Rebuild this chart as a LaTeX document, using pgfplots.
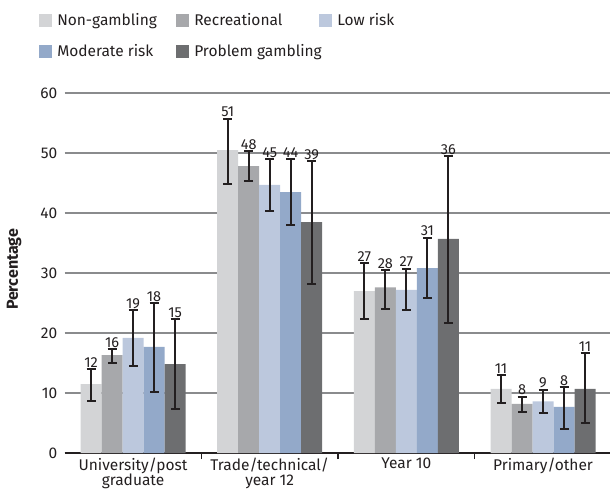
\documentclass[border=0pt]{standalone}
\usepackage{pgfplots}
\pgfplotsset{compat=1.18}
\usepackage{pgfplotstable}
\usepackage{fontspec}
\setmainfont{Fira Sans}
\definecolor{cNG}{HTML}{D3D4D6}
\definecolor{cRec}{HTML}{A7A8AB}
\definecolor{cLow}{HTML}{BCC8DD}
\definecolor{cMod}{HTML}{93A9C9}
\definecolor{cProb}{HTML}{6D6E70}
\definecolor{txt}{HTML}{231F20}
\definecolor{gridc}{HTML}{8A8B8D}

\pgfplotstableread{
x y ep em lab
0 11.5 2.5 2.8 12
1 50.5 5.2 5.7 51
2 27.0 4.6 4.7 27
3 10.7 2.3 2.4 11
}\tNG
\pgfplotstableread{
x y ep em lab
0 16.3 1.0 1.3 16
1 47.8 2.5 2.4 48
2 27.6 2.9 3.6 28
3 8.2 1.2 1.4 8
}\tRec
\pgfplotstableread{
x y ep em lab
0 19.2 4.6 4.7 19
1 44.7 4.3 4.4 45
2 27.2 3.5 3.4 27
3 8.6 1.9 2.0 9
}\tLow
\pgfplotstableread{
x y ep em lab
0 17.7 7.3 7.5 18
1 43.5 5.5 5.5 44
2 30.8 5.1 5.0 31
3 7.7 3.3 3.7 8
}\tMod
\pgfplotstableread{
x y ep em lab
0 14.8 7.5 7.4 15
1 38.5 10.1 10.3 39
2 35.7 13.8 14.1 36
3 10.7 5.9 5.7 11
}\tProb

\begin{document}
\begin{tikzpicture}[x=1pt,y=1pt]
\useasboundingbox (0,0) rectangle (610,499);
\begin{axis}[
  at={(64.7pt,46pt)}, anchor=south west,
  scale only axis, width=545.3pt, height=360pt,
  ybar=0pt, bar width=21pt,
  xmin=-0.5, xmax=3.49, ymin=0, ymax=60,
  axis x line*=bottom, axis y line*=left,
  y axis line style={draw=none},
  x axis line style={txt, line width=1.5pt},
  xtick={0,1,2,3},
  xticklabels={{University/post\\graduate},{Trade/technical/\\year 12},{Year 10},{Primary/other}},
  xticklabel style={align=center, font=\fontsize{15.5}{15.5}\selectfont, text=txt, yshift=-1pt},
  minor xtick={0.5,1.5,2.5},
  major x tick style={draw=none},
  minor x tick style={txt, line width=1.5pt},
  minor tick length=6pt, tick align=outside,
  ytick={0,10,...,60},
  major tick length=0pt,
  yticklabel style={font=\fontsize{15.5}{15.5}\selectfont, text=txt, xshift=-4pt},
  /pgf/number format/assume math mode=true,
  ymajorgrids, xmajorgrids=false,
  major grid style={draw=gridc, line width=1.3pt},
  ylabel={Percentage},
  ylabel style={font=\bfseries\fontsize{16}{16}\selectfont, text=txt, at={(axis description cs:-0.093,0.51)}, anchor=center},
  error bars/y dir=both, error bars/y explicit,
  error bars/error bar style={draw=txt, line width=2pt},
  error bars/error mark options={draw=txt, line width=2pt, mark size=4.5pt, rotate=90},
  nodes near coords,
  point meta=explicit symbolic,
  visualization depends on={6*\thisrow{ep} \as \eshift},
  every node near coord/.append style={font=\fontsize{14.5}{14.5}\selectfont, text=txt, anchor=south, inner sep=1.5pt, yshift=\eshift},
  legend columns=3,
  legend cell align=left,
  legend style={at={(axis description cs:-0.047,1.226)}, anchor=north west, draw=none, fill=none, inner sep=0pt,
    font=\fontsize{15.5}{15.5}\selectfont, text=txt, row sep=13pt,
    /tikz/every even column/.append style={column sep=0pt}},
  legend image code/.code={\fill[#1,draw=none] (0pt,-6.5pt) rectangle (13pt,6.5pt);},
]
\addplot[fill=cNG, draw=none] table[x=x, y=y, y error plus=ep, y error minus=em, meta=lab] {\tNG};
\addplot[fill=cRec, draw=none] table[x=x, y=y, y error plus=ep, y error minus=em, meta=lab] {\tRec};
\addplot[fill=cLow, draw=none] table[x=x, y=y, y error plus=ep, y error minus=em, meta=lab] {\tLow};
\addplot[fill=cMod, draw=none] table[x=x, y=y, y error plus=ep, y error minus=em, meta=lab] {\tMod};
\addplot[fill=cProb, draw=none] table[x=x, y=y, y error plus=ep, y error minus=em, meta=lab] {\tProb};
\addlegendentry{\hspace{3pt}\makebox[117pt][l]{Non-gambling}}
\addlegendentry{\hspace{3pt}\makebox[123pt][l]{Recreational}}
\addlegendentry{\hspace{3pt}Low risk}
\addlegendentry{\hspace{3pt}\makebox[117pt][l]{Moderate risk}}
\addlegendentry{\hspace{3pt}\makebox[123pt][l]{Problem gambling}}
\end{axis}
\end{tikzpicture}
\end{document}
